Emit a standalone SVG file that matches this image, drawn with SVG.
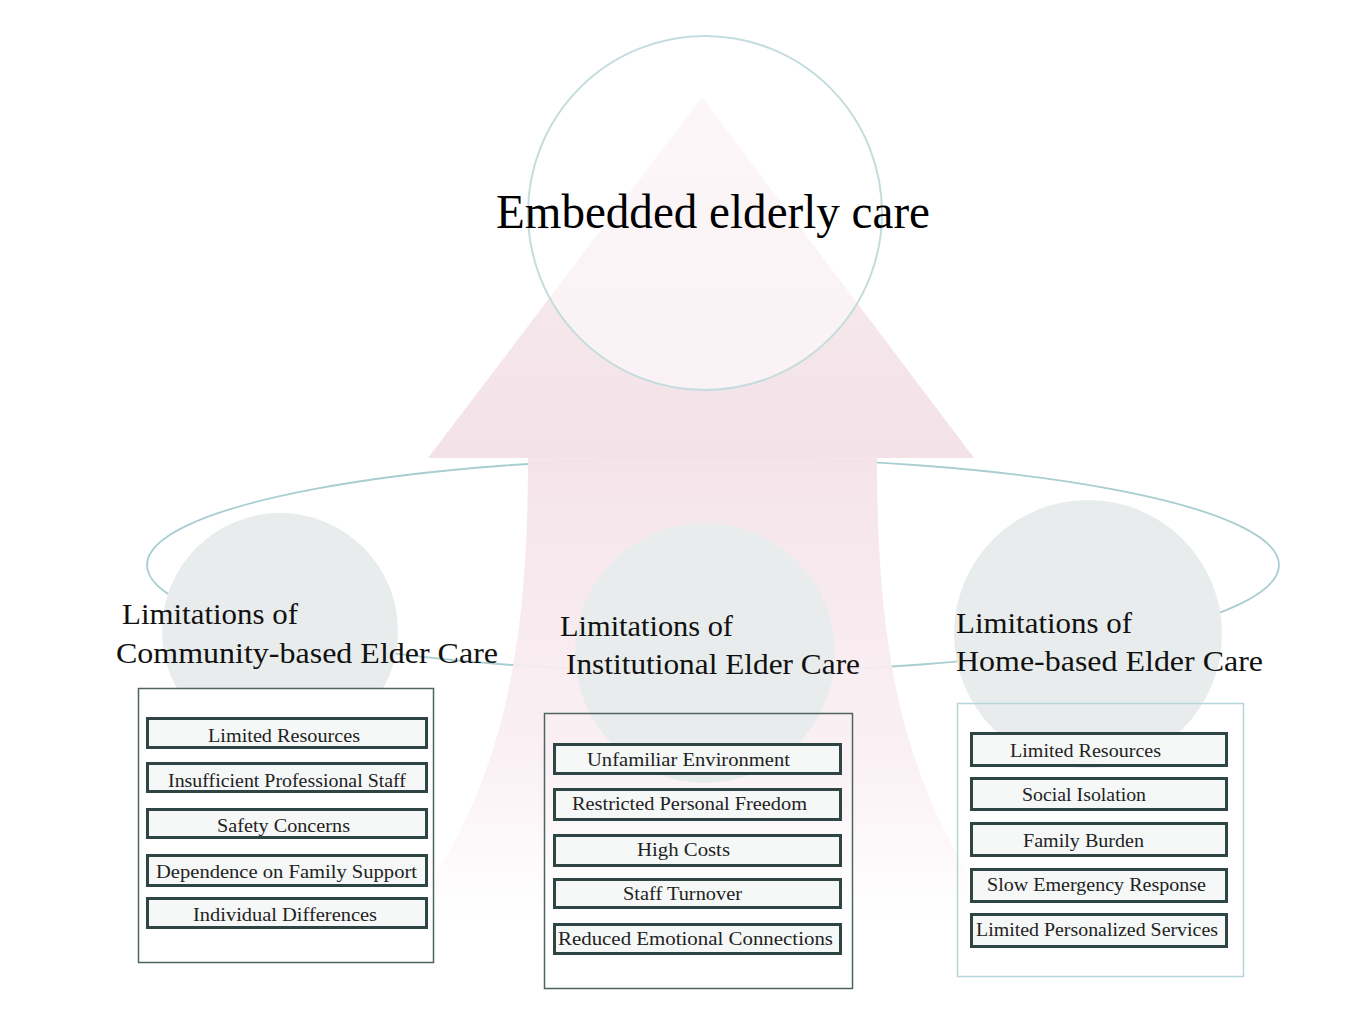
<svg xmlns="http://www.w3.org/2000/svg" width="1372" height="1026" viewBox="0 0 1372 1026">
<defs>
<linearGradient id="triGrad" x1="0" y1="97" x2="0" y2="458" gradientUnits="userSpaceOnUse">
<stop offset="0" stop-color="#f9eef1"/>
<stop offset="1" stop-color="#f3e2e7"/>
</linearGradient>
<linearGradient id="shaftGrad" x1="0" y1="458" x2="0" y2="1000" gradientUnits="userSpaceOnUse">
<stop offset="0" stop-color="#f4e3e8"/>
<stop offset="0.55" stop-color="#faf0f3"/>
<stop offset="0.85" stop-color="#ffffff"/>
<stop offset="1" stop-color="#ffffff"/>
</linearGradient>
<style>
.head{font-family:"Liberation Serif","Times New Roman",serif;font-size:30px;fill:#111;}
.title{font-family:"Liberation Serif","Times New Roman",serif;font-size:48px;fill:#000;}
.item{font-family:"Liberation Serif","Times New Roman",serif;font-size:18.5px;fill:#222;}
.itembox{fill:#f6f8f8;stroke:#2e4544;stroke-width:3;}
.panel{stroke:#4e6463;stroke-width:1.5;}
.gcirc{fill:#e9ecec;}
</style>
</defs>
<rect width="1372" height="1026" fill="#ffffff"/>

<g id="connectors">
<ellipse id="orbit" cx="713" cy="565" rx="566" ry="107" fill="none" stroke="#a9ced1" stroke-width="1.8"/>
</g>

<g id="arrow">
<path d="M702,97 L974,458 L428,458 Z" fill="url(#triGrad)"/>
<path d="M528,458 C528,660 500,780 420,900 L395,1000 L1010,1000 L985,900 C905,780 877,660 877,458 Z" fill="url(#shaftGrad)" opacity="0.95"/>
</g>

<g id="node-embedded">
<circle cx="705" cy="213" r="177" fill="#ffffff" fill-opacity="0.5" stroke="#c4dcdd" stroke-width="2"/>
<text class="title" x="496" y="228" textLength="434" lengthAdjust="spacingAndGlyphs">Embedded elderly care</text>
</g>

<g id="node-community">
<circle class="gcirc" cx="280" cy="631" r="118"/>
<text class="head" x="122" y="624" textLength="176" lengthAdjust="spacingAndGlyphs">Limitations of</text>
<text class="head" x="116" y="663" textLength="382" lengthAdjust="spacingAndGlyphs">Community-based Elder Care</text>
<rect class="panel" x="138.5" y="688.5" width="295" height="274" fill="#ffffff"/>
<rect class="itembox" x="147.5" y="718.5" width="279" height="29"/>
<text class="item" x="208" y="742" textLength="152" lengthAdjust="spacingAndGlyphs">Limited Resources</text>
<rect class="itembox" x="147.5" y="763.5" width="279" height="28"/>
<text class="item" x="168" y="787" textLength="238" lengthAdjust="spacingAndGlyphs">Insufficient Professional Staff</text>
<rect class="itembox" x="147.5" y="809.5" width="279" height="28"/>
<text class="item" x="217" y="832" textLength="133" lengthAdjust="spacingAndGlyphs">Safety Concerns</text>
<rect class="itembox" x="147.5" y="855.5" width="279" height="30"/>
<text class="item" x="156" y="878" textLength="261" lengthAdjust="spacingAndGlyphs">Dependence on Family Support</text>
<rect class="itembox" x="147.5" y="898.5" width="279" height="29"/>
<text class="item" x="193" y="921" textLength="184" lengthAdjust="spacingAndGlyphs">Individual Differences</text>
</g>

<g id="node-institutional">
<circle class="gcirc" cx="705" cy="653" r="130"/>
<text class="head" x="560" y="636" textLength="173" lengthAdjust="spacingAndGlyphs">Limitations of</text>
<text class="head" x="566" y="674" textLength="294" lengthAdjust="spacingAndGlyphs">Institutional Elder Care</text>
<rect class="panel" x="544.5" y="713.5" width="308" height="275" fill="none"/>
<rect class="itembox" x="554.5" y="744.5" width="286" height="29"/>
<text class="item" x="587" y="766" textLength="203" lengthAdjust="spacingAndGlyphs">Unfamiliar Environment</text>
<rect class="itembox" x="554.5" y="789.5" width="286" height="30"/>
<text class="item" x="572" y="810" textLength="235" lengthAdjust="spacingAndGlyphs">Restricted Personal Freedom</text>
<rect class="itembox" x="554.5" y="835.5" width="286" height="30"/>
<text class="item" x="637" y="856" textLength="93" lengthAdjust="spacingAndGlyphs">High Costs</text>
<rect class="itembox" x="554.5" y="879.5" width="286" height="28"/>
<text class="item" x="623" y="900" textLength="119" lengthAdjust="spacingAndGlyphs">Staff Turnover</text>
<rect class="itembox" x="554.5" y="924.5" width="286" height="29"/>
<text class="item" x="558" y="945" textLength="275" lengthAdjust="spacingAndGlyphs">Reduced Emotional Connections</text>
</g>

<g id="node-home">
<circle class="gcirc" cx="1088" cy="634" r="134"/>
<text class="head" x="956" y="633" textLength="176" lengthAdjust="spacingAndGlyphs">Limitations of</text>
<text class="head" x="956" y="671" textLength="307" lengthAdjust="spacingAndGlyphs">Home-based Elder Care</text>
<rect x="957.5" y="703.5" width="286" height="273" fill="none" stroke="#b5d7d9" stroke-width="1.5"/>
<rect class="itembox" x="971.5" y="733.5" width="255" height="32"/>
<text class="item" x="1010" y="757" textLength="151" lengthAdjust="spacingAndGlyphs">Limited Resources</text>
<rect class="itembox" x="971.5" y="778.5" width="255" height="31"/>
<text class="item" x="1022" y="801" textLength="124" lengthAdjust="spacingAndGlyphs">Social Isolation</text>
<rect class="itembox" x="971.5" y="823.5" width="255" height="32"/>
<text class="item" x="1023" y="847" textLength="121" lengthAdjust="spacingAndGlyphs">Family Burden</text>
<rect class="itembox" x="971.5" y="869.5" width="255" height="32"/>
<text class="item" x="987" y="891" textLength="219" lengthAdjust="spacingAndGlyphs">Slow Emergency Response</text>
<rect class="itembox" x="971.5" y="914.5" width="255" height="32"/>
<text class="item" x="976" y="936" textLength="242" lengthAdjust="spacingAndGlyphs">Limited Personalized Services</text>
</g>
</svg>
